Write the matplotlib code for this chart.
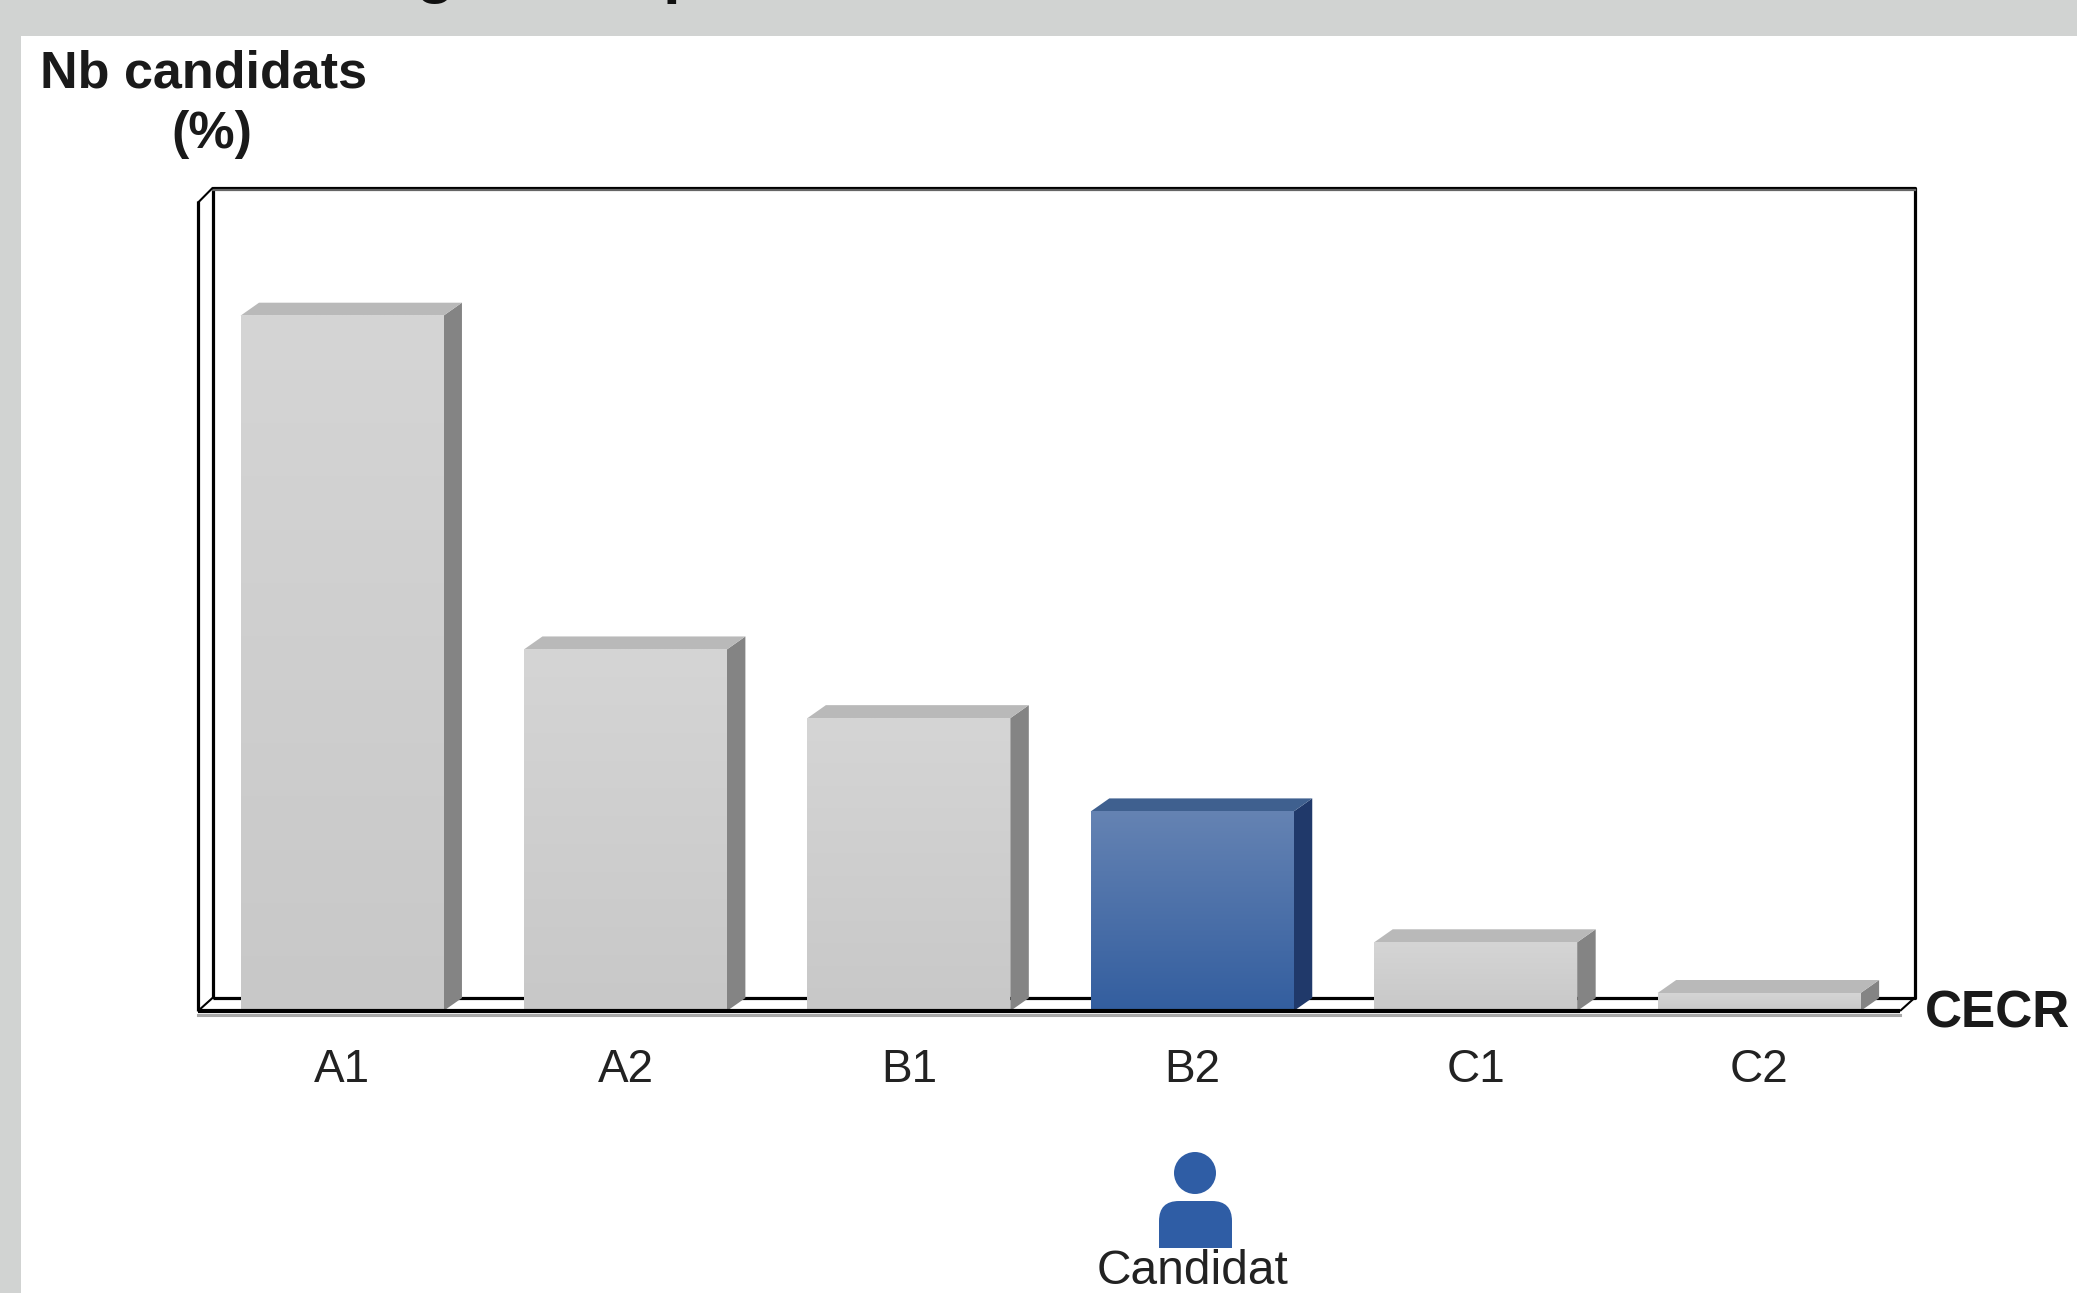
import numpy as np
import matplotlib
matplotlib.use("Agg")
import matplotlib.pyplot as plt
from matplotlib.patches import Polygon, Rectangle, Ellipse, FancyBboxPatch
from matplotlib.colors import LinearSegmentedColormap

levels = ["A1", "A2", "B1", "B2", "C1", "C2"]
shares = [42.5, 22.1, 17.9, 12.2, 4.2, 1.1]
candidate_level = "B2"
ylabel_lines = ["Nb candidats", "(%)"]
xlabel = "CECR"
marker_label = "Candidat"

W, H = 2077, 1293
FONT = ["Liberation Sans", "DejaVu Sans"]
fig = plt.figure(figsize=(W / 100, H / 100), dpi=100, facecolor="white")

def fx(p):
    return p / W
def fy(p):
    return 1 - p / H

# page background
for (x0, y0, x1, y1) in [(0, 0, W, 36), (0, 0, 21, H)]:
    fig.add_artist(Rectangle((fx(x0), fy(y1)), fx(x1 - x0), (y1 - y0) / H,
                             transform=fig.transFigure, fc="#D1D3D2", ec="none", zorder=0))

# clipped heading remnants along the top edge
fig.text(fx(435), fy(-9.5), "g", fontsize=46, fontweight="bold", ha="center", va="baseline",
         family="Liberation Sans", color="#111111")
fig.text(fx(682), fy(-9.5), "p", fontsize=46, fontweight="bold", ha="center", va="baseline",
         family="Liberation Sans", color="#111111")

L, R, T, B = 198, 1900, 201, 1011
ax = fig.add_axes([fx(L), fy(B), (R - L) / W, (B - T) / H], facecolor="none")
xlim = (-0.508, 5.497)
ylim = (0, (B - T) / 16.36)
ax.set_xlim(*xlim)
ax.set_ylim(*ylim)
for s in ax.spines.values():
    s.set_visible(False)
ax.set_yticks([])

# chart frame
wx, wy = 15 / (R - L), 13.5 / (B - T)
frame = dict(transform=ax.transAxes, color="black", lw=2.3, clip_on=False, solid_capstyle="butt")
ax.plot([wx, wx, 1 + wx, 1 + wx, wx], [wy, 1 + wy, 1 + wy, wy, wy], zorder=1, **frame)
ax.plot([wx, 1 + wx], [1 + wy - 0.003, 1 + wy - 0.003], transform=ax.transAxes, color="#666666",
        lw=1.6, clip_on=False, zorder=1)
ax.plot([0, wx], [1 - 0.002, 1 + wy], zorder=1, **{**frame, "lw": 1.5})
ax.plot([1, 1 + wx], [0, wy], zorder=1, **{**frame, "lw": 1.5})
ax.plot([0, wx], [0, wy], zorder=1, **{**frame, "lw": 1.5})
ax.plot([0, 0], [0, 1], zorder=1, **frame)
ax.plot([0, 1], [-0.005, -0.005], transform=ax.transAxes, color="#A8A8A8", lw=2.2,
        clip_on=False, zorder=5)
ax.plot([0, 1], [0, 0], zorder=6, **{**frame, "lw": 3})

# bars
xpos = np.arange(len(levels))
width = 0.716
dx, dy = 18.5 / 283.4, 13 / 16.36
grey = LinearSegmentedColormap.from_list("g", ["#D5D5D5", "#C8C8C8"])
blue = LinearSegmentedColormap.from_list("b", ["#6583B3", "#335E9F"])
grad = np.linspace(0, 1, 256).reshape(-1, 1)

for x, v, lab in zip(xpos, shares, levels):
    hit = lab == candidate_level
    face = "#4A6EA8" if hit else "#CFCFCF"
    side = "#20396A" if hit else "#848484"
    top = "#3F608F" if hit else "#B9B9B9"
    x0, x1 = x - width / 2, x + width / 2
    ax.add_patch(Polygon([(x1, 0), (x1, v), (x1 + dx, v + dy), (x1 + dx, dy)],
                         fc=side, ec="none", zorder=3))
    ax.add_patch(Polygon([(x0, v), (x1, v), (x1 + dx, v + dy), (x0 + dx, v + dy)],
                         fc=top, ec="none", zorder=3))
    ax.bar(x, v, width=width, color=face, linewidth=0, zorder=3)
    ax.imshow(grad, cmap=blue if hit else grey, extent=(x0, x1, 0, v), aspect="auto",
              origin="upper", zorder=4, interpolation="bilinear")
ax.set_xlim(*xlim)
ax.set_ylim(*ylim)

ax.set_xticks(xpos, levels, fontsize=33, family=FONT, color="#222222")
ax.tick_params(axis="x", length=0, pad=27)

# axis titles
bold = dict(family=FONT, fontweight="bold", color="#1A1A1A")
fig.text(fx(40), fy(87), ylabel_lines[0], fontsize=37.5, ha="left", va="baseline", **bold)
fig.text(fx(212), fy(148), ylabel_lines[1], fontsize=37.5, ha="center", va="baseline", **bold)
fig.text(fx(1925), fy(1027), xlabel, fontsize=37, ha="left", va="baseline", **bold)

# candidate marker
blue_c = "#2F5DA5"
fig.add_artist(Ellipse((fx(1195), fy(1173)), 42 / W, 42 / H, transform=fig.transFigure,
                       fc=blue_c, ec="none"))
pix = matplotlib.transforms.Affine2D().scale(1, -1).translate(0, H)
body = FancyBboxPatch((1165, 1207), 61, 60, boxstyle="round,pad=6,rounding_size=20",
                      fc=blue_c, ec="none")
body.set_transform(pix)
clip = Rectangle((1155, 1199), 82, 49, transform=pix, fc="none", ec="none")
fig.add_artist(clip)
fig.add_artist(body)
body.set_clip_path(clip)
fig.text(fx(1193), fy(1284), marker_label, fontsize=34.5, ha="center", va="baseline",
         family=FONT, color="#222222")

fig.savefig("out.png", dpi=100, facecolor="white")
